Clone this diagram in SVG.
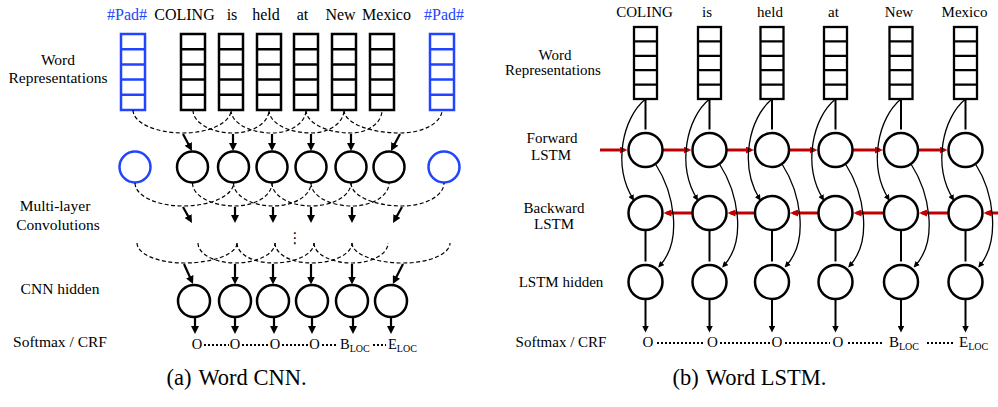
<svg xmlns="http://www.w3.org/2000/svg" width="998" height="407" viewBox="0 0 998 407" font-family="'Liberation Serif', 'Times New Roman', serif">
<style>
text { font-family: "Liberation Serif", "Times New Roman", serif; fill:#000; }
.lab { font-size:15.5px; text-anchor:middle; }
.labr { font-size:15px; text-anchor:middle; }
.word { font-size:16px; text-anchor:middle; }
.wordr { font-size:15px; text-anchor:middle; }
.blue { fill:#2244ff; }
.cap { font-size:22.5px; text-anchor:middle; }
.node { fill:#fff; stroke:#000; stroke-width:2.5; }
.bnode { fill:#fff; stroke:#2244ff; stroke-width:2.5; }
.dash { fill:none; stroke:#000; stroke-width:1.2; stroke-dasharray:4 2.5; }
.arr { stroke:#000; stroke-width:2.2; fill:none; marker-end:url(#ah); }
.varr { stroke:#000; stroke-width:2; fill:none; marker-end:url(#ah2); }
.thin { stroke:#000; stroke-width:1.3; fill:none; marker-end:url(#ahs); }
.red { stroke:#c00000; stroke-width:3; fill:none; marker-end:url(#ahr); }
.dot { stroke:#000; stroke-width:2; stroke-dasharray:2 2; fill:none; }
.out { font-size:15px; }
.outl { font-size:14.5px; }
.sub { font-size:10px; }
</style>
<defs>
<marker id="ah" markerUnits="userSpaceOnUse" markerWidth="8" markerHeight="8" viewBox="0 0 8 8" refX="5" refY="4" orient="auto"><path d="M0,0 L8,4 L0,8 z" fill="#000"/></marker>
<marker id="ah2" markerUnits="userSpaceOnUse" markerWidth="7" markerHeight="7" viewBox="0 0 7 7" refX="4.5" refY="3.5" orient="auto"><path d="M0,0 L7,3.5 L0,7 z" fill="#000"/></marker>
<marker id="ahs" markerUnits="userSpaceOnUse" markerWidth="6" markerHeight="6" viewBox="0 0 6 6" refX="4" refY="3" orient="auto"><path d="M0,0 L6,3 L0,6 z" fill="#000"/></marker>
<marker id="ahr" markerUnits="userSpaceOnUse" markerWidth="8" markerHeight="7" viewBox="0 0 8 7" refX="5" refY="3.5" orient="auto"><path d="M0,0 L8,3.5 L0,7 z" fill="#c00000"/></marker>
<g id="vecL" fill="none" stroke="currentColor" stroke-width="2.5">
<rect x="0" y="0" width="24" height="76"/>
<path d="M0 15.2H24M0 30.4H24M0 45.6H24M0 60.8H24"/>
</g>
<g id="vecR" fill="none" stroke="currentColor" stroke-width="2.3">
<rect x="0" y="0" width="23" height="72"/>
<path d="M0 14.4H23M0 28.8H23M0 43.2H23M0 57.6H23"/>
</g>
</defs>
<rect width="998" height="407" fill="#fff"/>

<!-- ===== (a) Word CNN ===== -->
<g id="cnn-labels">
<text class="lab" x="58" y="65">Word</text>
<text class="lab" x="58" y="83">Representations</text>
<text class="lab" x="55" y="211">Multi-layer</text>
<text class="lab" x="58" y="230">Convolutions</text>
<text class="lab" x="60" y="294">CNN hidden</text>
<text class="lab" x="60" y="347">Softmax / CRF</text>
</g>

<g id="cnn-w0"><text class="word blue" x="127" y="20">#Pad#</text><use href="#vecL" x="121" y="34" style="color:#2244ff"/></g>
<g id="cnn-w1"><text class="word" x="184.5" y="20">COLING</text><use href="#vecL" x="181" y="34" style="color:#000"/></g>
<g id="cnn-w2"><text class="word" x="232" y="20">is</text><use href="#vecL" x="219" y="34" style="color:#000"/></g>
<g id="cnn-w3"><text class="word" x="266" y="20">held</text><use href="#vecL" x="257" y="34" style="color:#000"/></g>
<g id="cnn-w4"><text class="word" x="302.5" y="20">at</text><use href="#vecL" x="294" y="34" style="color:#000"/></g>
<g id="cnn-w5"><text class="word" x="340.5" y="20">New</text><use href="#vecL" x="332" y="34" style="color:#000"/></g>
<g id="cnn-w6"><text class="word" x="386.5" y="20">Mexico</text><use href="#vecL" x="370" y="34" style="color:#000"/></g>
<g id="cnn-w7"><text class="word blue" x="444" y="20">#Pad#</text><use href="#vecL" x="430" y="34" style="color:#2244ff"/></g>

<g id="cnn-c0"><circle class="bnode" cx="135" cy="167" r="15.5"/></g>
<g id="cnn-c1"><circle class="node" cx="192.5" cy="167" r="15.5"/></g>
<g id="cnn-c2"><circle class="node" cx="233.5" cy="167" r="15.5"/></g>
<g id="cnn-c3"><circle class="node" cx="272" cy="167" r="15.5"/></g>
<g id="cnn-c4"><circle class="node" cx="311" cy="167" r="15.5"/></g>
<g id="cnn-c5"><circle class="node" cx="351" cy="167" r="15.5"/></g>
<g id="cnn-c6"><circle class="node" cx="389" cy="167" r="15.5"/></g>
<g id="cnn-c7"><circle class="bnode" cx="444" cy="167" r="15.5"/></g>

<g id="cnn-dots"><text x="295" y="243" style="font-family:'DejaVu Sans',sans-serif;font-size:15px" text-anchor="middle">⋮</text></g>

<g id="cnn-h1"><circle class="node" cx="194" cy="301" r="16"/></g>
<g id="cnn-h2"><circle class="node" cx="235" cy="301" r="16"/></g>
<g id="cnn-h3"><circle class="node" cx="273" cy="301" r="16"/></g>
<g id="cnn-h4"><circle class="node" cx="312" cy="301" r="16"/></g>
<g id="cnn-h5"><circle class="node" cx="352" cy="301" r="16"/></g>
<g id="cnn-h6"><circle class="node" cx="391" cy="301" r="16"/></g>

<g id="cnn-out">
<text class="outl" x="197" y="349" text-anchor="middle">O</text>
<text class="outl" x="235" y="349" text-anchor="middle">O</text>
<text class="outl" x="275" y="349" text-anchor="middle">O</text>
<text class="outl" x="314.5" y="349" text-anchor="middle">O</text>
<text class="outl" x="340" y="349">B<tspan class="sub" dy="2.5">LOC</tspan></text>
<text class="outl" x="388" y="349">E<tspan class="sub" dy="2.5">LOC</tspan></text>
</g>

<g id="cnn-connectors">
<path class="dash" d="M133 110C133 122.7 155.4 133 183 133C209.5 133 231 122.7 231 110"/>
<path class="dash" d="M193 110C193 122.7 210.9 133 233 133C252.9 133 269 122.7 269 110"/>
<path class="dash" d="M231 110C231 122.7 249.4 133 272 133C290.8 133 306 122.7 306 110"/>
<path class="dash" d="M269 110C269 122.7 287.8 133 311 133C329.2 133 344 122.7 344 110"/>
<path class="dash" d="M306 110C306 122.7 326.1 133 351 133C368.1 133 382 122.7 382 110"/>
<path class="dash" d="M344 110C344 122.7 369.1 133 400 133C423.2 133 442 122.7 442 110"/>
<path class="arr" d="M183 134L190.6 148.3"/>
<path class="arr" d="M233 134V148"/>
<path class="arr" d="M272 134V148"/>
<path class="arr" d="M311 134V148"/>
<path class="arr" d="M351 134V148"/>
<path class="arr" d="M400 134L392.4 148.3"/>
<path class="dash" d="M135 183C135 195.7 156.5 206 183 206C210.9 206 233.5 195.7 233.5 183"/>
<path class="dash" d="M192.5 183C192.5 195.7 211.5 206 235 206C255.4 206 272 195.7 272 183"/>
<path class="dash" d="M233.5 183C233.5 195.7 251.2 206 273 206C294 206 311 195.7 311 183"/>
<path class="dash" d="M272 183C272 195.7 289.5 206 311 206C333.1 206 351 195.7 351 183"/>
<path class="dash" d="M311 183C311 195.7 329.4 206 352 206C372.4 206 389 195.7 389 183"/>
<path class="dash" d="M351 183C351 195.7 373.8 206 402 206C425.2 206 444 195.7 444 183"/>
<path class="arr" d="M183 207L190.5 220.4"/>
<path class="arr" d="M235 207V220"/>
<path class="arr" d="M273 207V220"/>
<path class="arr" d="M311 207V220"/>
<path class="arr" d="M352 207V220"/>
<path class="arr" d="M402 207L394.5 220.4"/>
<path class="dash" d="M137 243C137 254 158 263 184 263C213.3 263 237 254 237 243"/>
<path class="dash" d="M198 243C198 254 214.6 263 235 263C257.1 263 275 254 275 243"/>
<path class="dash" d="M237 243C237 254 253.1 263 273 263C295.6 263 314 254 314 243"/>
<path class="dash" d="M275 243C275 254 291.1 263 311 263C333.6 263 352 254 352 243"/>
<path class="dash" d="M314 243C314 254 331 263 352 263C371.9 263 388 254 388 243"/>
<path class="dash" d="M352 243C352 254 374.8 263 403 263C429 263 450 254 450 243"/>
<path class="arr" d="M184 264L191.8 281.3"/>
<path class="arr" d="M235 264V281.5"/>
<path class="arr" d="M273 264V281.5"/>
<path class="arr" d="M311 264V281.5"/>
<path class="arr" d="M352 264V281.5"/>
<path class="arr" d="M403 264L394.2 281.3"/>
<path class="arr" d="M195 317V331"/>
<path class="arr" d="M235 317V331"/>
<path class="arr" d="M274 317V331"/>
<path class="arr" d="M312 317V331"/>
<path class="arr" d="M353 317V331"/>
<path class="arr" d="M391 317V331"/>
<path class="dot" d="M204 345H229M242 345H268M282 345H308M322 345H338M373 345H386"/>
</g>

<g id="cap-a"><text class="cap" x="236.5" y="385">(a)<tspan dx="7">Word CNN.</tspan></text></g>

<!-- ===== (b) Word LSTM ===== -->
<g id="lstm-labels">
<text class="labr" x="555" y="60">Word</text>
<text class="labr" x="553" y="75">Representations</text>
<text class="labr" x="552" y="143">Forward</text>
<text class="labr" x="551" y="160">LSTM</text>
<text class="labr" x="554" y="213">Backward</text>
<text class="labr" x="554" y="229">LSTM</text>
<text class="labr" x="561" y="287">LSTM hidden</text>
<text class="labr" x="561" y="347">Softmax / CRF</text>
</g>

<g id="lstm-w1"><text class="wordr" x="644.5" y="17">COLING</text><use href="#vecR" x="634" y="27" style="color:#000"/></g>
<g id="lstm-w2"><text class="wordr" x="707" y="17">is</text><use href="#vecR" x="698" y="27" style="color:#000"/></g>
<g id="lstm-w3"><text class="wordr" x="770" y="17">held</text><use href="#vecR" x="760.5" y="27" style="color:#000"/></g>
<g id="lstm-w4"><text class="wordr" x="833.5" y="17">at</text><use href="#vecR" x="824" y="27" style="color:#000"/></g>
<g id="lstm-w5"><text class="wordr" x="899" y="17">New</text><use href="#vecR" x="889.5" y="27" style="color:#000"/></g>
<g id="lstm-w6"><text class="wordr" x="964.5" y="17">Mexico</text><use href="#vecR" x="954" y="27" style="color:#000"/></g>

<g id="lstm-connectors">
<path class="red" d="M600 150H624.5"/>
<path class="red" d="M662.5 150H688.5"/>
<path class="red" d="M726.5 150H751"/>
<path class="red" d="M789 150H814.5"/>
<path class="red" d="M852.5 150H880"/>
<path class="red" d="M918 150H944.5"/>
<path class="red" d="M692.5 213H666.5"/>
<path class="red" d="M755 213H730.5"/>
<path class="red" d="M818.5 213H793"/>
<path class="red" d="M884 213H856.5"/>
<path class="red" d="M948.5 213H922"/>
<path class="red" d="M998 213H986.5"/>
<path class="varr" d="M645.5 99V129.5M645.5 230V261.5M645.5 299V330"/>
<path class="varr" d="M709.5 99V129.5M709.5 230V261.5M709.5 299V330"/>
<path class="varr" d="M772 99V129.5M772 230V261.5M772 299V330"/>
<path class="varr" d="M835.5 99V129.5M835.5 230V261.5M835.5 299V330"/>
<path class="varr" d="M901 99V129.5M901 230V261.5M901 299V330"/>
<path class="varr" d="M965.5 99V129.5M965.5 230V261.5M965.5 299V330"/>
<path class="thin" d="M645.5 99C622.5 118 612.5 165 633 199"/>
<path class="thin" d="M709.5 99C686.5 118 676.5 165 697 199"/>
<path class="thin" d="M772 99C749 118 739 165 759.5 199"/>
<path class="thin" d="M835.5 99C812.5 118 802.5 165 823 199"/>
<path class="thin" d="M901 99C878 118 868 165 888.5 199"/>
<path class="thin" d="M965.5 99C942.5 118 932.5 165 953 199"/>
<path class="thin" d="M655.5 164C673.5 192 683.5 240 659.5 266"/>
<path class="thin" d="M719.5 164C737.5 192 747.5 240 723.5 266"/>
<path class="thin" d="M782 164C800 192 810 240 786 266"/>
<path class="thin" d="M845.5 164C863.5 192 873.5 240 849.5 266"/>
<path class="thin" d="M911 164C929 192 939 240 915 266"/>
<path class="thin" d="M975.5 164C993.5 192 1001 240 979.5 266"/>
<path class="dot" d="M657 343H705M720 343H770M785 343H830M848 343H882M927 343H953"/>
</g>

<g id="lstm-f1"><circle class="node" cx="645.5" cy="150" r="17"/></g>
<g id="lstm-f2"><circle class="node" cx="709.5" cy="150" r="17"/></g>
<g id="lstm-f3"><circle class="node" cx="772" cy="150" r="17"/></g>
<g id="lstm-f4"><circle class="node" cx="835.5" cy="150" r="17"/></g>
<g id="lstm-f5"><circle class="node" cx="901" cy="150" r="17"/></g>
<g id="lstm-f6"><circle class="node" cx="965.5" cy="150" r="17"/></g>

<g id="lstm-b1"><circle class="node" cx="645.5" cy="213" r="17"/></g>
<g id="lstm-b2"><circle class="node" cx="709.5" cy="213" r="17"/></g>
<g id="lstm-b3"><circle class="node" cx="772" cy="213" r="17"/></g>
<g id="lstm-b4"><circle class="node" cx="835.5" cy="213" r="17"/></g>
<g id="lstm-b5"><circle class="node" cx="901" cy="213" r="17"/></g>
<g id="lstm-b6"><circle class="node" cx="965.5" cy="213" r="17"/></g>

<g id="lstm-h1"><circle class="node" cx="645.5" cy="282" r="17"/></g>
<g id="lstm-h2"><circle class="node" cx="709.5" cy="282" r="17"/></g>
<g id="lstm-h3"><circle class="node" cx="772" cy="282" r="17"/></g>
<g id="lstm-h4"><circle class="node" cx="835.5" cy="282" r="17"/></g>
<g id="lstm-h5"><circle class="node" cx="901" cy="282" r="17"/></g>
<g id="lstm-h6"><circle class="node" cx="965.5" cy="282" r="17"/></g>

<g id="lstm-out">
<text class="out" x="648" y="347" text-anchor="middle">O</text>
<text class="out" x="712.5" y="347" text-anchor="middle">O</text>
<text class="out" x="777" y="347" text-anchor="middle">O</text>
<text class="out" x="838" y="347" text-anchor="middle">O</text>
<text class="out" x="889" y="347">B<tspan class="sub" dy="2.5">LOC</tspan></text>
<text class="out" x="959" y="347">E<tspan class="sub" dy="2.5">LOC</tspan></text>
</g>

<g id="cap-b"><text class="cap" x="749.5" y="385">(b)<tspan dx="7">Word LSTM.</tspan></text></g>
</svg>
